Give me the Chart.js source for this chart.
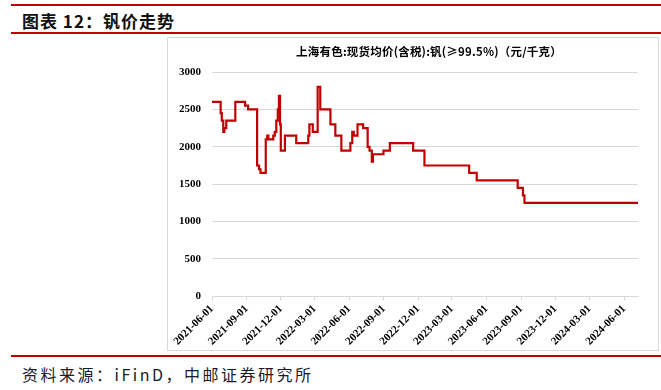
<!DOCTYPE html>
<html>
<head>
<meta charset="utf-8">
<script src="https://cdn.jsdelivr.net/npm/chart.js@4.4.1/dist/chart.umd.min.js"></script>
<style>
  body { margin: 0; background: #fff; width: 661px; height: 390px; position: relative; overflow: hidden; }
  .rule { position: absolute; left: 11px; right: 0; background: #c00000; }
  .title { position: absolute; left: 22px; top: 8px; font: bold 17px "Noto Sans CJK SC", sans-serif; color: #111; letter-spacing: 1px; }
  .box { position: absolute; left: 167px; top: 37px; width: 490px; height: 312px; border: 1px solid #d9d9d9; }
  .ctitle { position: absolute; left: 168px; width: 490px; top: 43px; text-align: center; padding-left: 16px; font: bold 11.5px "Noto Sans CJK SC", sans-serif; color: #000; letter-spacing: 0.2px; }
  .source { position: absolute; left: 22px; top: 362px; font: 16px "Noto Sans CJK SC", sans-serif; color: #1a1a2a; letter-spacing: 2.5px; }
</style>
</head>
<body>
<div class="rule" style="top:4px;height:2px"></div>
<div class="title">图表 12：钒价走势</div>
<div class="rule" style="top:32px;height:2px"></div>
<div class="box"><canvas id="vChart" width="490" height="312"></canvas></div>
<div class="ctitle">上海有色:现货均价(含税):钒(≥99.5%)（元/千克）</div>
<div class="rule" style="top:355px;height:1.5px"></div>
<div class="source">资料来源：iFinD，中邮证券研究所</div>
<script>
// dates where the price changes, and the new price (元/千克)
var priceDates = [
  '2021-06-01', '2021-06-24', '2021-06-27', '2021-07-01', '2021-07-04', '2021-07-09',
  '2021-08-02', '2021-08-28', '2021-09-05', '2021-09-29', '2021-10-04', '2021-10-08',
  '2021-10-22', '2021-10-26', '2021-10-29', '2021-11-11', '2021-11-15', '2021-11-19',
  '2021-11-23', '2021-11-26', '2021-11-29', '2021-12-01', '2021-12-12', '2022-01-11',
  '2022-02-12', '2022-02-15', '2022-02-24', '2022-03-09', '2022-03-16', '2022-04-12',
  '2022-04-25', '2022-05-11', '2022-06-04', '2022-06-09', '2022-06-13', '2022-06-23',
  '2022-07-08', '2022-07-20', '2022-07-25', '2022-07-31', '2022-08-03', '2022-08-31',
  '2022-09-17', '2022-11-18', '2022-12-18', '2023-04-16', '2023-05-06', '2023-08-23',
  '2023-09-06', '2023-09-10', '2024-07-08'
];
var vanadiumPrices = [
  2600, 2450, 2350, 2200, 2250, 2350,
  2600, 2550, 2500, 1750, 1700, 1650,
  2100, 2150, 2100, 2150, 2200, 2350,
  2500, 2680, 2300, 1950, 2150, 2050,
  2150, 2300, 2200, 2800, 2500, 2300,
  2150, 1950, 2050, 2200, 2150, 2300,
  2250, 2000, 1950, 1800, 1900, 1950,
  2050, 1950, 1750, 1650, 1550, 1450,
  1350, 1250, 1250
];
var tickLabels = [
  '2021-06-01', '2021-09-01', '2021-12-01', '2022-03-01', '2022-06-01', '2022-09-01',
  '2022-12-01', '2023-03-01', '2023-06-01', '2023-09-01', '2023-12-01', '2024-03-01',
  '2024-06-01'
];

var startDate = priceDates[0];
function dayOf(s) {
  return (Date.parse(s) - Date.parse(startDate)) / 86400000;
}

var points = priceDates.map(function(d, i) {
  return { x: dayOf(d), y: vanadiumPrices[i] };
});
var tickDays = tickLabels.map(dayOf);

var axisFont = { family: '"Liberation Serif", serif', size: 11, weight: 'bold' };

var ctx = document.getElementById('vChart').getContext('2d');
var vChart = new Chart(ctx, {
  type: 'line',
  data: {
    datasets: [{
      label: '钒',
      data: points,
      borderColor: '#c00000',
      borderWidth: 2.2,
      pointRadius: 0,
      stepped: true,
      fill: false
    }]
  },
  options: {
    responsive: false,
    animation: false,
    layout: { padding: { left: 0, right: 20, top: 34, bottom: 0 } },
    plugins: {
      legend: { display: false },
      tooltip: { enabled: false }
    },
    scales: {
      x: {
        type: 'linear',
        min: 0,
        max: dayOf(priceDates[priceDates.length - 1]),
        afterBuildTicks: function(scale) {
          scale.ticks = tickDays.map(function(v) { return { value: v }; });
        },
        ticks: {
          autoSkip: false,
          maxRotation: 45,
          minRotation: 45,
          color: '#000',
          font: axisFont,
          padding: 2,
          callback: function(value) {
            var i = tickDays.indexOf(value);
            return i >= 0 ? tickLabels[i] : '';
          }
        },
        grid: { drawOnChartArea: false, drawTicks: true, tickLength: 4, color: '#d9d9d9' },
        border: { display: true, color: '#d9d9d9', width: 1 }
      },
      y: {
        min: 0,
        max: 3000,
        ticks: {
          stepSize: 500, color: '#000', font: axisFont, padding: 11,
          callback: function(value) { return String(value); }
        },
        grid: { color: '#d9d9d9', drawTicks: false },
        border: { display: false }
      }
    }
  }
});
</script>
</body>
</html>
